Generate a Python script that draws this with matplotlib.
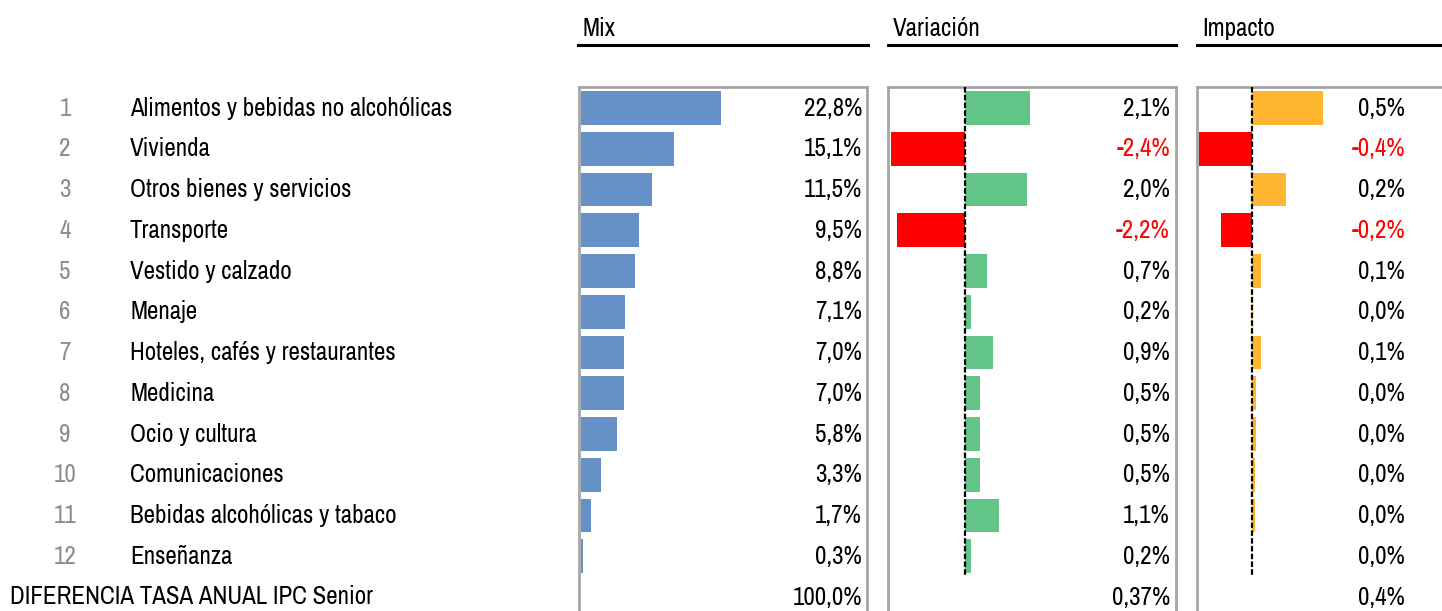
import matplotlib
matplotlib.use("Agg")
import matplotlib.pyplot as plt
from matplotlib import font_manager
from matplotlib.transforms import blended_transform_factory as btf

categories = ["Alimentos y bebidas no alcohólicas", "Vivienda", "Otros bienes y servicios",
              "Transporte", "Vestido y calzado", "Menaje", "Hoteles, cafés y restaurantes",
              "Medicina", "Ocio y cultura", "Comunicaciones", "Bebidas alcohólicas y tabaco",
              "Enseñanza"]
mix = [22.8, 15.1, 11.5, 9.5, 8.8, 7.1, 7.0, 7.0, 5.8, 3.3, 1.7, 0.3]
variacion = [2.1, -2.4, 2.0, -2.2, 0.7, 0.2, 0.9, 0.5, 0.5, 0.5, 1.1, 0.2]
impacto = [0.48, -0.36, 0.23, -0.21, 0.06, 0.01, 0.06, 0.03, 0.03, 0.02, 0.02, 0.00]
total_label = "DIFERENCIA TASA ANUAL IPC Senior"
total_mix = "100,0%"
total_var = "0,37%"
total_imp = "0,4%"
headers = ["Mix", "Variación", "Impacto"]

# pick a condensed family if one is installed, otherwise Liberation Sans slightly smaller
narrow = None
cands = []
for f in font_manager.fontManager.ttflist:
    n = f.name
    if ("Narrow" in n or "Condensed" in n) and f.style == "normal":
        w = f.weight if isinstance(f.weight, int) else 400
        cands.append((abs(w - 400), n))
if cands:
    cands.sort()
    narrow = cands[0][1]
if narrow:
    FONT = [narrow, "DejaVu Sans"]
    FS = 18.0
else:
    FONT = ["Liberation Sans", "DejaVu Sans"]
    FS = 16.0
FW = "normal"

W, H = 1442, 611
fig = plt.figure(figsize=(W / 100, H / 100), dpi=100)

row0, step = 108, 40.75
top_px, bot_px = 87, 640
ylim = ((bot_px - row0) / step, -(row0 - top_px) / step)

def make_ax(x0, x1):
    ax = fig.add_axes([x0 / W, 1 - bot_px / H, (x1 - x0) / W, (bot_px - top_px) / H])
    ax.set_ylim(*ylim)
    ax.set_xticks([]); ax.set_yticks([])
    for s in ax.spines.values():
        s.set_color("#A6A6A6"); s.set_linewidth(2)
    return ax

def pct(v, d=1):
    return (f"{v:.{d}f}%").replace(".", ",")

ys = list(range(len(categories)))
BH = 0.83

# Mix
ax1 = make_ax(579, 867)
px1 = 6.14
ax1.set_xlim(-2 / px1, 286 / px1)
ax1.barh(ys, mix, height=BH, color="#6690C8")
# Variación
ax2 = make_ax(888, 1176)
px2 = 31.0
ax2.set_xlim(-77 / px2, 211 / px2)
ax2.barh(ys, variacion, height=BH, color=["#FF0000" if v < 0 else "#63C487" for v in variacion])
# Impacto
ax3 = make_ax(1197, 1490)
px3 = 148.0
ax3.set_xlim(-55 / px3, 238 / px3)
ax3.barh(ys, impacto, height=BH, color=["#FF0000" if v < 0 else "#FFB630" for v in impacto])

for ax in (ax2, ax3):
    ax.plot([0, 0], [ylim[1], 11.5], color="black", lw=1.6, ls=(0, (2.5, 1)), zorder=3)

def rtext(ax, xpx, vals, fmt, total):
    tr = btf(fig.transFigure, ax.transData)
    for i, v in enumerate(vals):
        ax.text(xpx / W, i, fmt(v), transform=tr, ha="right", va="center", fontsize=FS,
                family=FONT, weight=FW, color="#FF0000" if v < 0 else "black", clip_on=False)
    ax.text(xpx / W, len(vals), total, transform=tr, ha="right", va="center",
            fontsize=FS, family=FONT, weight=FW, color="black", clip_on=False)

rtext(ax1, 862, mix, pct, total_mix)
rtext(ax2, 1170, variacion, pct, total_var)
rtext(ax3, 1405, impacto, pct, total_imp)

tr = btf(fig.transFigure, ax1.transData)
for i, c in enumerate(categories):
    ax1.text(65 / W, i, str(i + 1), transform=tr, ha="center", va="center",
             fontsize=FS, family=FONT, weight=FW, color="#8C8C8C", clip_on=False)
    ax1.text(130 / W, i, c, transform=tr, ha="left", va="center",
             fontsize=FS, family=FONT, weight=FW, color="black", clip_on=False)
ax1.text(10 / W, len(categories), total_label, transform=tr, ha="left", va="center",
         fontsize=FS, family=FONT, weight=FW, color="black", clip_on=False)

for h, (x0, x1) in zip(headers, [(578, 868), (888, 1176), (1197, 1442)]):
    fig.text((x0 + 5) / W, 1 - 28 / H, h, ha="left", va="center", fontsize=FS,
             family=FONT, weight=FW, color="black")
    fig.add_artist(plt.Line2D([x0 / W, x1 / W], [1 - 45 / H, 1 - 45 / H],
                              color="black", lw=2.2, transform=fig.transFigure))

fig.savefig("out.png", dpi=100)
